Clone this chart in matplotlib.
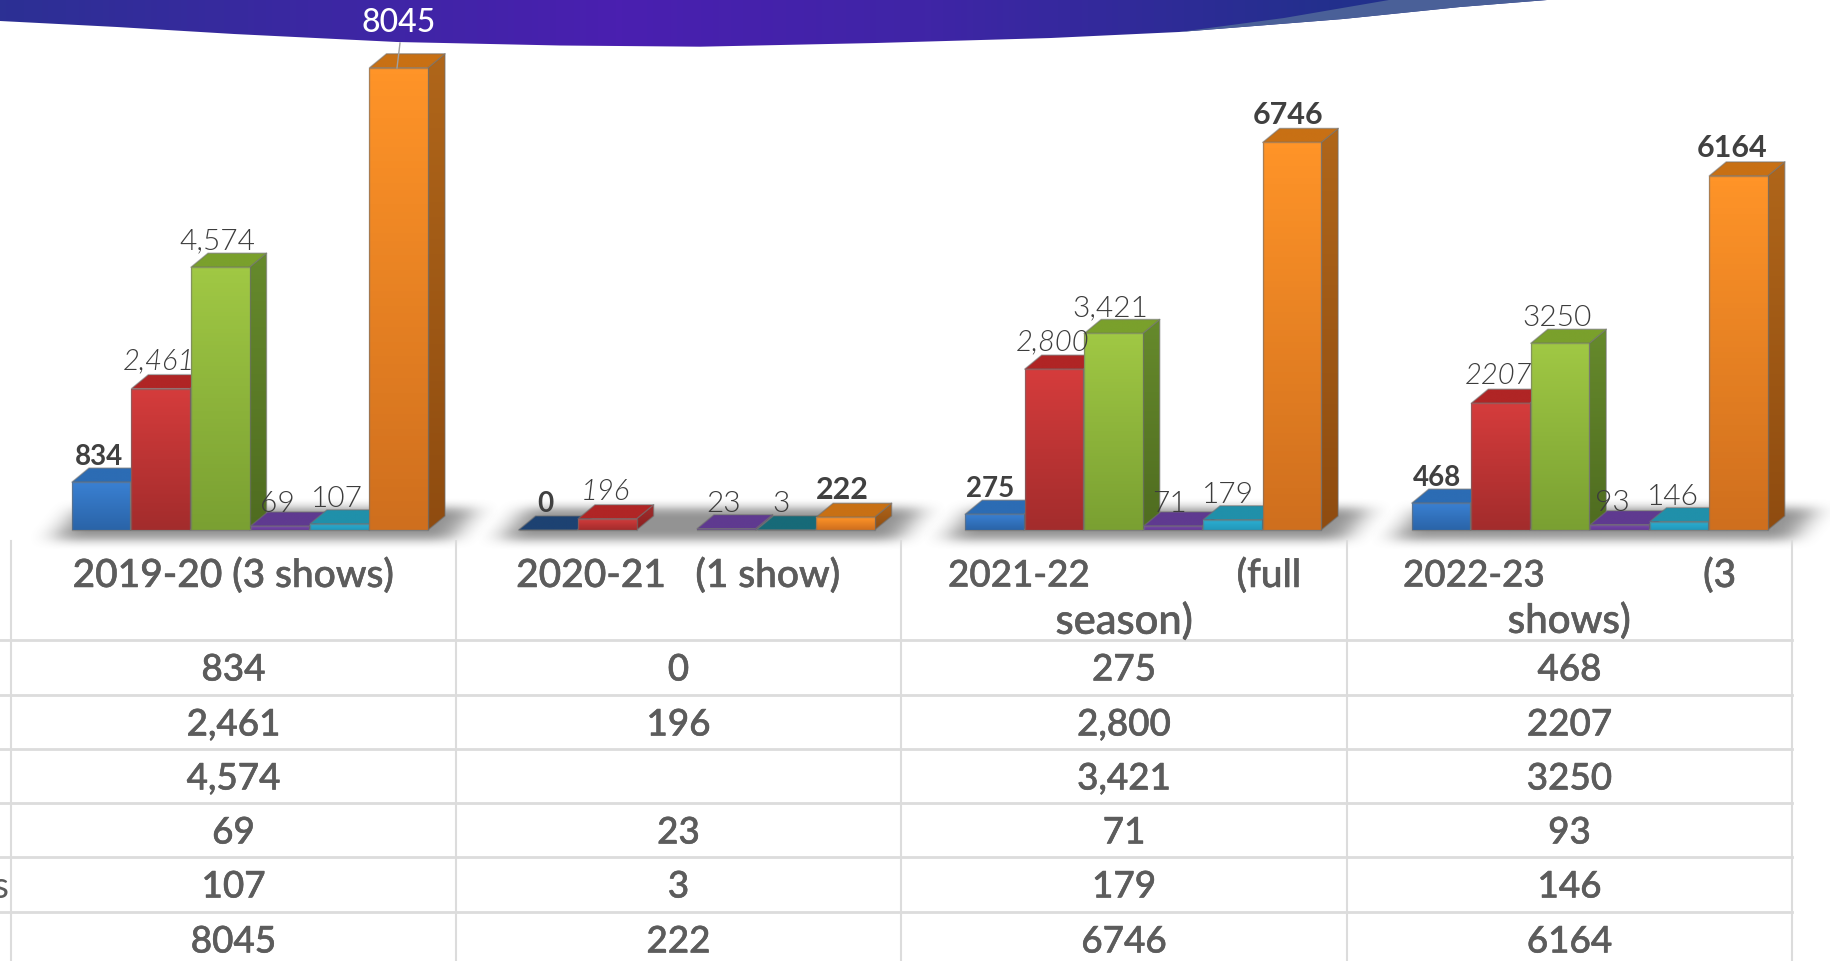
import numpy as np
import matplotlib
matplotlib.use("Agg")
import matplotlib.pyplot as plt
import matplotlib.patheffects as pe
from matplotlib.colors import LinearSegmentedColormap
from matplotlib.patches import Polygon

plt.rcParams["font.family"] = ["Lato", "Open Sans", "DejaVu Sans"]

#Datos de la tabla
header_lines = [["2019-20 (3 shows)"],
                ["2020-21   (1 show)"],
                ["2021-22", "(full", "season)"],
                ["2022-23", "(3", "shows)"]]
s1 = [834, 0, 275, 468]
s2 = [2461, 196, 2800, 2207]
s3 = [4574, None, 3421, 3250]
s4 = [69, 23, 71, 93]
s5 = [107, 3, 179, 146]
s6 = [8045, 222, 6746, 6164]
s1_txt = ["834", "0", "275", "468"]
s2_txt = ["2,461", "196", "2,800", "2207"]
s3_txt = ["4,574", "", "3,421", "3250"]
s4_txt = ["69", "23", "71", "93"]
s5_txt = ["107", "3", "179", "146"]
s6_txt = ["8045", "222", "6746", "6164"]

series = [s1, s2, s3, s4, s5, s6]
series_txt = [s1_txt, s2_txt, s3_txt, s4_txt, s5_txt, s6_txt]

#Colores: frente arriba, frente abajo, costado arriba, costado abajo, tapa
colors = [("#3a80d2", "#2a64a8", "#2a64a8", "#1f4d85", "#2c6cb4"),
          ("#d53c3c", "#a32c2c", "#a32c2c", "#8a2020", "#b02525"),
          ("#a0c844", "#7aa032", "#668a2c", "#4f6c20", "#7aa02c"),
          ("#7a48b0", "#643a96", "#5a3488", "#4a2a70", "#5f3a90"),
          ("#2cb0d4", "#2298ba", "#1a88a4", "#17708a", "#2090aa"),
          ("#ff9428", "#cf6f1e", "#b0661a", "#8f4c10", "#c87014")]

W, H = 1831, 961
fig = plt.figure(figsize=(W / 100, H / 100), dpi=100, facecolor="white")

#Ejes de barras: x en grupos, y en valores
base_px = 530.0
px_per_val = 0.05745
group_px = 446.6
start_px = 72.0
step = 59.5 / group_px
bar_w = 58.5 / group_px
dep_x = 17.0 / group_px
dep_y = 14.0 / px_per_val

ax = fig.add_axes([0, 0, 1, 1])
ax.set_xlim(-start_px / group_px, (W - start_px) / group_px)
ax.set_ylim(-(H - base_px) / px_per_val, base_px / px_per_val)
ax.axis("off")

def grad(c1, c2):
    return LinearSegmentedColormap.from_list("g", [c1, c2])

def fill_poly(pts, c1, c2, z):
    #Polígono con degradado vertical
    pts = np.array(pts)
    poly = Polygon(pts, closed=True, facecolor="none", edgecolor="none", zorder=z)
    ax.add_patch(poly)
    im = ax.imshow(np.linspace(0, 1, 64).reshape(-1, 1), cmap=grad(c1, c2), aspect="auto",
                   extent=[pts[:, 0].min(), pts[:, 0].max(), pts[:, 1].min(), pts[:, 1].max()],
                   origin="upper", zorder=z)
    im.set_clip_path(poly)
    ax.add_patch(Polygon(pts, closed=True, fill=False, edgecolor="#70707090", linewidth=1.0,
                         joinstyle="round", zorder=z))

def bar3d(x, v, col, z):
    ftop, fbot, stop, sbot, cap = col
    w = bar_w
    fill_poly([(x + w, 0), (x + w + dep_x, dep_y), (x + w + dep_x, v + dep_y), (x + w, v)], stop, sbot, z)
    fill_poly([(x, v), (x + dep_x, v + dep_y), (x + w + dep_x, v + dep_y), (x + w, v)], cap, cap, z + 0.1)
    fill_poly([(x, 0), (x, v), (x + w, v), (x + w, 0)], ftop, fbot, z + 0.2)

#Sombra del piso por grupo, borrosa
mask = np.zeros((80, 520))
for r in range(24, 56):
    t = (r - 24) / 31
    left = 60 + 8 - 26 * t
    right = 60 + 404 - 25 * t
    mask[r, int(left):int(right)] = 1
kx = np.ones(29) / 29
ky = np.ones(11) / 11
for _ in range(2):
    mask = np.apply_along_axis(lambda m: np.convolve(m, ky, mode="same"), 0, mask)
    mask = np.apply_along_axis(lambda m: np.convolve(m, kx, mode="same"), 1, mask)
shadow = np.zeros((80, 520, 4))
shadow[..., :3] = 0.4
shadow[..., 3] = mask * 0.7
for i in range(4):
    ax.imshow(shadow, aspect="auto", zorder=1,
              extent=[i - 60 / group_px, i + 460 / group_px, -34 / px_per_val, 46 / px_per_val])

#Barras de izquierda a derecha, la de la derecha tapa el costado de la anterior
for j in range(6):
    for i in range(4):
        v = series[j][i]
        if v is None:
            continue
        col = colors[j]
        if i == 1 and j == 0:
            col = ("#1d4272",) * 5
        if i == 1 and j == 4:
            col = ("#176a78", "#176a78", "#145a66", "#145a66", "#176a78")
        bar3d(i + j * step, v, col, 5 + j)

#Etiquetas
dark = "#404040"
thin = "#3c3c3c"
def lab(i, j, dx, dy, size, **kw):
    x = i + j * step + (bar_w + dep_x) / 2 + dx / group_px
    v = series[j][i] or 0
    ax.text(x, v + dep_y + dy / px_per_val, series_txt[j][i], ha="center", va="baseline",
            fontsize=size, zorder=30, **kw)

dy_red = [5, 5, 5, 5]
dy_purple = [0, 3, 0, 0]
dy_teal = [3, 4, 3, 3]
dx_purple = [-11, -11, -12, -16]
dx_teal = [-11, -13, -13, -15]
dx_blue = [-11, -11, -13, -13]
dx_orange = [-15, -12, -12, -15]
for i in range(4):
    lab(i, 0, dx_blue[i], 3.5, 20, fontweight="bold", color=dark)
    lab(i, 1, -10, dy_red[i], 21, fontstyle="italic", fontweight=300, color=thin)
    if s3[i] is not None:
        lab(i, 2, -12 if i else -11, 3.5, 21.5, fontweight=300, color=thin)
    lab(i, 3, dx_purple[i], dy_purple[i], 21.5, fontweight=300, color=thin)
    lab(i, 4, dx_teal[i], dy_teal[i], 21.5, fontweight=300, color=thin)
for i in [1, 2, 3]:
    lab(i, 5, dx_orange[i], 4.5, 22, fontweight="bold", color=dark)

#Ejes de píxeles para banda y tabla
ov = fig.add_axes([0, 0, 1, 1], facecolor="none")
ov.axis("off")

band_x = [0, 117, 234, 397, 560, 700, 876, 1051, 1179, 1343, 1460, 1547]
band_y = [21, 27, 34, 42, 45.5, 46.7, 43, 38, 32, 19, 7, 0]
band_cmap = LinearSegmentedColormap.from_list("band", [(0, "#2c3094"), (0.4, "#4a1fb0"), (0.6, "#3f25a6"),
                                                       (0.87, "#22308c"), (1, "#22308c")])
poly = Polygon(list(zip(band_x, band_y)) + [(0, 0)], closed=True, facecolor="none", edgecolor="none")
ov.add_patch(poly)
im = ov.imshow(np.linspace(0, 1, 256).reshape(1, -1), cmap=band_cmap, aspect="auto",
               extent=[0, 1547, 50, 0], zorder=2)
im.set_clip_path(poly)
wedge_x = [1179, 1284, 1389, 1547, 1460, 1343]
wedge_y = [32, 18, 0, 0, 7, 19]
ov.add_patch(Polygon(list(zip(wedge_x, wedge_y)), closed=True, facecolor="#4a6098", edgecolor="none", zorder=3))
ov.set_xlim(0, W)
ov.set_ylim(H, 0)

ov.text(399, 23, "8045", ha="center", va="center", fontsize=23, color="white", fontweight=500, zorder=5)
ov.plot([400, 397], [43, 68], color="#a0a0a0", linewidth=1, zorder=5)

#Tabla
line_c = "#dcdcdc"
v_x = [11, 456, 901, 1347, 1792]
h_y = [640, 695, 749, 803, 857, 912]
for x in v_x:
    ov.plot([x, x], [541, H], color=line_c, linewidth=1.5, zorder=3)
for y in h_y:
    ov.plot([0, v_x[-1]], [y, y], color=line_c, linewidth=2, zorder=3)

txt_c = "#5c5c5c"
heavy = [pe.withStroke(linewidth=0.4, foreground=txt_c)]
centers = [233.5, 678.5, 1124, 1569.5]
row_y = [670, 725, 779, 833, 887, 942]
for i in range(4):
    for r in range(6):
        ov.text(centers[i], row_y[r], series_txt[r][i], ha="center", va="center",
                fontsize=26.5, color=txt_c, fontweight=500, path_effects=heavy, zorder=4)

def head(x, y, s, ha, size=28):
    ov.text(x, y, s, ha=ha, va="center", fontsize=size, color=txt_c, fontweight=500,
            path_effects=heavy, zorder=4)

head(233, 576, header_lines[0][0], "center")
head(678, 576, header_lines[1][0], "center")
head(948, 576, header_lines[2][0], "left", 26.5)
head(1301, 576, header_lines[2][1], "right")
head(1124, 621, header_lines[2][2], "center", 30)
head(1403, 576, header_lines[3][0], "left", 26.5)
head(1736, 576, header_lines[3][1], "right")
head(1569, 621, header_lines[3][2], "center", 29)
ov.text(-7, 887, "s", ha="left", va="center", fontsize=26.5, color=txt_c, zorder=4)

fig.savefig("out.png", dpi=100)
